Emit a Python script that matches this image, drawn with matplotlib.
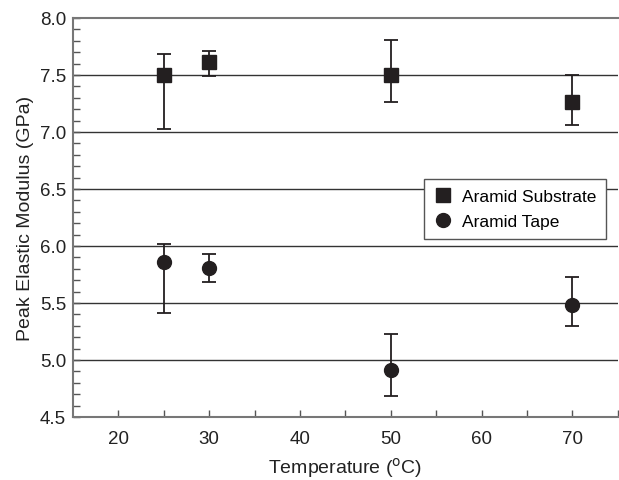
import matplotlib
matplotlib.use("Agg")
import matplotlib.pyplot as plt

plt.rcParams['font.family'] = ['Liberation Sans', 'DejaVu Sans']

temps = [25, 30, 50, 70]
substrate = [7.50, 7.61, 7.50, 7.26]
substrate_hi = [7.68, 7.71, 7.81, 7.50]
substrate_lo = [7.03, 7.49, 7.26, 7.06]
tape = [5.86, 5.81, 4.91, 5.48]
tape_hi = [6.02, 5.93, 5.23, 5.73]
tape_lo = [5.41, 5.68, 4.68, 5.30]

xticks = [20, 30, 40, 50, 60, 70]
yticks = [4.5, 5.0, 5.5, 6.0, 6.5, 7.0, 7.5, 8.0]

fig = plt.figure(figsize=(6.19, 4.81), dpi=100)
ax = fig.add_axes([73/619, 1 - 418/481, 1 - 73/619 - 0.002, (418 - 19)/481])

dark = '#231f20'
for y in yticks[1:-1]:
    ax.axhline(y, color='#333333', lw=1.0, zorder=1)

def err(v, lo, hi):
    return [[a - b for a, b in zip(v, lo)], [b - a for a, b in zip(v, hi)]]

eb1 = ax.errorbar(temps, substrate, yerr=err(substrate, substrate_lo, substrate_hi),
                  fmt='s', color=dark, ms=9.5, capsize=4.8, elinewidth=1.3, capthick=1.3,
                  zorder=3)
eb2 = ax.errorbar(temps, tape, yerr=err(tape, tape_lo, tape_hi),
                  fmt='o', color=dark, ms=10, capsize=4.8, elinewidth=1.3, capthick=1.3,
                  zorder=3)

ax.set_xlim(15, 75)
ax.set_ylim(4.5, 8.0)
ax.set_xticks(xticks)
ax.set_xticks([25, 35, 45, 55, 65, 75], minor=True)
ax.set_yticks(yticks)
ax.set_yticks([v / 10 for v in range(45, 80) if v % 5 != 0], minor=True)
ax.set_yticklabels([f'{v:.1f}' for v in yticks])
ax.tick_params(axis='both', which='both', direction='in', length=5, width=1,
               color='#555555', labelsize=13.5, pad=5, labelcolor='#222222')
ax.tick_params(axis='x', pad=9)

for s in ['left', 'bottom', 'top']:
    ax.spines[s].set_color('#777777')
    ax.spines[s].set_linewidth(1.5)
ax.spines['right'].set_visible(False)

ax.set_xlabel('Temperature ($^{\\rm o}$C)', fontsize=14, color='#222222', labelpad=6)
ax.set_ylabel('Peak Elastic Modulus (GPa)', fontsize=14, color='#222222', labelpad=4)

leg = ax.legend([eb1[0], eb2[0]], ['Aramid Substrate', 'Aramid Tape'],
                loc='upper right', bbox_to_anchor=(0.979, 0.597), fontsize=12.5,
                frameon=True, fancybox=False, edgecolor='#555555', framealpha=1,
                handletextpad=0.55, borderpad=0.6, labelspacing=0.55,
                handlelength=1.0, borderaxespad=0)
leg.get_frame().set_linewidth(1.0)
leg.set_zorder(5)

fig.savefig('out.png', dpi=100)
